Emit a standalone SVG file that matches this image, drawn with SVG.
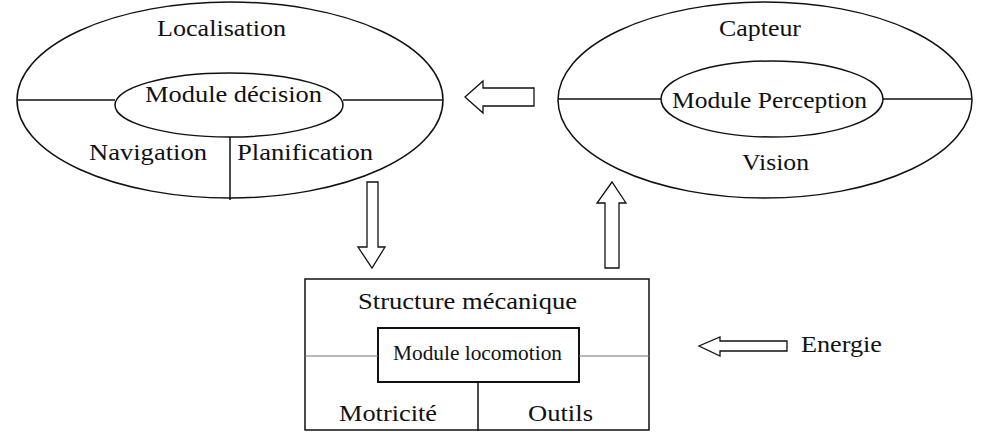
<svg xmlns="http://www.w3.org/2000/svg" width="988" height="432" viewBox="0 0 988 432">
<style>
.s{fill:none;stroke:#111;stroke-width:1.5}
text{font-family:'Liberation Serif','Times New Roman','DejaVu Serif',serif;font-size:24px;fill:#111}
.a{fill:#fff;stroke:#111;stroke-width:1.3}
.g{stroke:#777;stroke-width:1.2}
</style>
<rect width="988" height="432" fill="#fff"/>
<g id="decision">
<ellipse class="s" cx="230" cy="100" rx="213" ry="98"/>
<ellipse class="s" cx="229" cy="105" rx="114" ry="32"/>
<line class="s" x1="17" y1="100" x2="115" y2="100"/>
<line class="s" x1="343" y1="100" x2="443" y2="100"/>
<line class="s" x1="230" y1="137" x2="230" y2="200"/>
<text x="157" y="36" textLength="129" lengthAdjust="spacingAndGlyphs">Localisation</text>
<text x="145" y="102" textLength="177" lengthAdjust="spacingAndGlyphs">Module décision</text>
<text x="89" y="160" textLength="118" lengthAdjust="spacingAndGlyphs">Navigation</text>
<text x="237" y="160" textLength="136" lengthAdjust="spacingAndGlyphs">Planification</text>
</g>
<g id="perception">
<ellipse class="s" cx="765" cy="100" rx="207" ry="98"/>
<ellipse class="s" cx="772" cy="99" rx="111" ry="38"/>
<line class="s" x1="558" y1="99" x2="661" y2="99"/>
<line class="s" x1="883" y1="99" x2="972" y2="99"/>
<text x="719" y="36" textLength="82" lengthAdjust="spacingAndGlyphs">Capteur</text>
<text x="672" y="108" textLength="195" lengthAdjust="spacingAndGlyphs">Module Perception</text>
<text x="742" y="170" textLength="67" lengthAdjust="spacingAndGlyphs">Vision</text>
</g>
<g id="locomotion">
<rect class="s" x="305" y="279" width="344" height="151"/>
<rect x="378" y="328" width="201" height="54" fill="none" stroke="#111" stroke-width="2"/>
<line class="g" x1="305" y1="356" x2="378" y2="356"/>
<line class="g" x1="579" y1="356" x2="649" y2="356"/>
<line class="s" x1="478" y1="382" x2="478" y2="431"/>
<text x="358" y="309" textLength="219" lengthAdjust="spacingAndGlyphs">Structure mécanique</text>
<text x="393" y="360" style="font-size:20px" textLength="169" lengthAdjust="spacingAndGlyphs">Module locomotion</text>
<text x="339" y="421" textLength="98" lengthAdjust="spacingAndGlyphs">Motricité</text>
<text x="528" y="421" textLength="65" lengthAdjust="spacingAndGlyphs">Outils</text>
</g>
<g id="energie">
<text x="801" y="352" textLength="81" lengthAdjust="spacingAndGlyphs">Energie</text>
</g>
<g id="connectors">
<path class="a" d="M534,88 L483,88 L483,81 L465,97 L483,113 L483,106 L534,106 Z"/>
<path class="a" d="M367,182 L378,182 L378,247 L385,247 L372,268 L358,247 L367,247 Z"/>
<path class="a" d="M605,268 L619,268 L619,203 L626,203 L612,182 L597,203 L605,203 Z"/>
<path class="a" d="M787,341 L720,341 L720,337 L699,346 L720,356 L720,351 L787,351 Z"/>
</g>
</svg>
